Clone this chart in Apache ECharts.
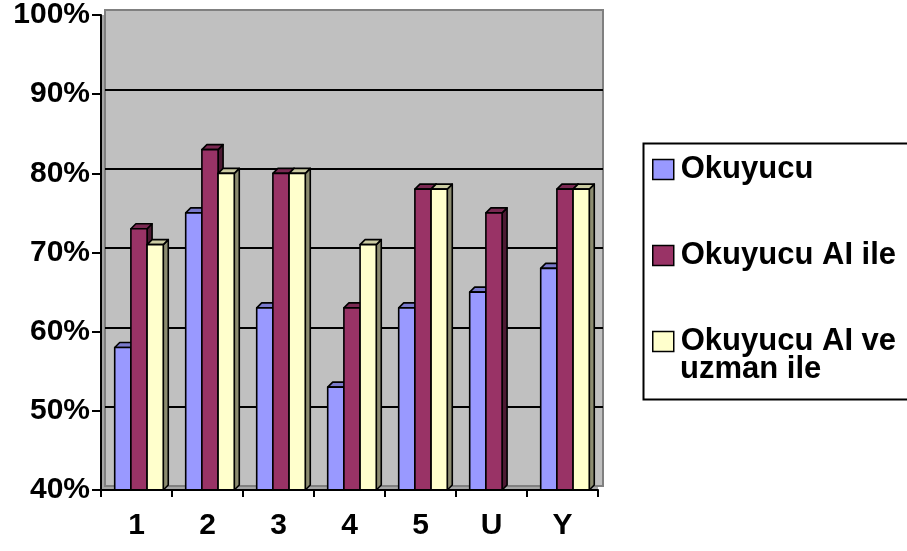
<!DOCTYPE html>
<html>
<head>
<meta charset="utf-8">
<script src="https://cdn.jsdelivr.net/npm/echarts@6/dist/echarts.min.js"></script>
<style>
  html, body { margin: 0; padding: 0; background: #fff; }
  #chart { width: 907px; height: 551px; }
</style>
</head>
<body>
<div id="chart"></div>
<script>
// Categories and series values (percent)
const categories = ['1', '2', '3', '4', '5', 'U', 'Y'];
const seriesNames = ['Okuyucu', 'Okuyucu AI ile', 'Okuyucu AI ve uzman ile'];
const okuyucu = [58, 75, 63, 53, 63, 65, 68];
const okuyucuAI = [73, 83, 80, 63, 78, 75, 78];
const okuyucuAIUzman = [71, 80, 80, 71, 78, null, 78];
const yMin = 40, yMax = 100, yStep = 10;

const faceColors = ['#9999FF', '#993366', '#FFFFCC'];
const topColors = ['#7a7acc', '#7a2952', '#cccca3'];
const sideColors = ['#5c5c99', '#4d1a33', '#8c8c70'];

const FONT = '"Liberation Sans", Arial, sans-serif';
const DEPTH = 5;

// 3D-looking column: front face, top face and right side face
function renderBar(params, api) {
  const cat = api.value(0);
  const v = api.value(1);
  if (v == null || isNaN(v)) return;
  const k = params.seriesIndex;
  const topPt = api.coord([cat, v]);
  const basePt = api.coord([cat, yMin]);
  const band = api.size([1, 0])[0];
  const w = band * 0.228;
  const x0 = topPt[0] - 1.5 * w + k * w + band * 0.035;
  const x1 = x0 + w;
  const yt = topPt[1];
  const yb = basePt[1];
  const d = DEPTH;
  const stroke = { stroke: '#000', lineWidth: 1.6, lineJoin: 'round' };
  return {
    type: 'group',
    children: [
      {
        type: 'polygon',
        shape: { points: [[x1, yt], [x1 + d, yt - d], [x1 + d, yb - d], [x1, yb]] },
        style: Object.assign({ fill: sideColors[k] }, stroke)
      },
      {
        type: 'polygon',
        shape: { points: [[x0, yt], [x0 + d, yt - d], [x1 + d, yt - d], [x1, yt]] },
        style: Object.assign({ fill: topColors[k] }, stroke)
      },
      {
        type: 'rect',
        shape: { x: x0, y: yt, width: w, height: yb - yt },
        style: Object.assign({ fill: faceColors[k] }, stroke)
      }
    ]
  };
}

function toPairs(arr) {
  return arr.map((v, i) => [i, v == null ? '-' : v]);
}
const allValues = [okuyucu, okuyucuAI, okuyucuAIUzman];

const chart = echarts.init(document.getElementById('chart'), null, { renderer: 'canvas' });

const LH = 28;
const LEGEND_FONT = 31;
const option = {
  animation: false,
  backgroundColor: '#fff',
  textStyle: { fontFamily: FONT },
  grid: [
    // front plane (axes + bars)
    { left: 101, right: 309, top: 14, bottom: 61, show: true, backgroundColor: '#a6a6a6', borderWidth: 0, z: 0 },
    // back wall, shifted by the depth
    { left: 105, right: 304, top: 10, bottom: 65, show: true, backgroundColor: '#c0c0c0', borderColor: '#808080', borderWidth: 2, z: 1 }
  ],
  xAxis: [
    {
      type: 'category', gridIndex: 0, data: categories, boundaryGap: true, z: 6,
      axisLine: { lineStyle: { color: '#000', width: 2 } },
      axisTick: { show: true, length: 7, lineStyle: { color: '#000', width: 2 } },
      axisLabel: { color: '#000', fontSize: 30, fontWeight: 'bold', fontFamily: FONT, margin: 21 }
    },
    { type: 'category', gridIndex: 1, data: categories, show: false }
  ],
  yAxis: [
    {
      type: 'value', gridIndex: 0, min: yMin, max: yMax, interval: yStep, z: 6,
      axisLine: { show: true, lineStyle: { color: '#000', width: 2 } },
      axisTick: { show: true, length: 9, lineStyle: { color: '#000', width: 2 } },
      splitLine: { show: false },
      axisLabel: { color: '#000', fontSize: 30, fontWeight: 'bold', fontFamily: FONT, margin: 11, formatter: '{value}%' }
    },
    {
      type: 'value', gridIndex: 1, min: yMin, max: yMax, interval: yStep, z: 2,
      axisLine: { show: false }, axisTick: { show: false }, axisLabel: { show: false },
      splitLine: { show: true, showMinLine: false, showMaxLine: false, lineStyle: { color: '#000', width: 2 } }
    }
  ],
  legend: {
    orient: 'vertical',
    left: 652,
    top: 168 - LH / 2,
    padding: 0,
    itemGap: 55,
    itemWidth: 21,
    itemHeight: 20,
    icon: 'rect',
    itemStyle: { borderColor: '#000', borderWidth: 1.5 },
    textStyle: { color: '#000', fontSize: LEGEND_FONT, fontWeight: 'bold', fontFamily: FONT, lineHeight: LH, padding: [0, 0, 0, 2] },
    formatter: function (name) {
      return name === seriesNames[2] ? 'Okuyucu AI ve' : name;
    },
    data: seriesNames
  },
  graphic: [
    {
      // continuation line of the third legend entry
      type: 'text', x: 680, y: 340 + LH + 1, z: 10,
      style: {
        text: 'uzman ile', fill: '#000', verticalAlign: 'middle',
        font: 'bold ' + LEGEND_FONT + 'px ' + FONT
      }
    },
    {
      type: 'rect', left: 641, top: 141, z: 10,
      shape: { width: 280, height: 256 },
      style: { fill: 'none', stroke: '#000', lineWidth: 2 }
    }
  ],
  series: allValues.map((vals, k) => ({
    type: 'custom',
    name: seriesNames[k],
    xAxisIndex: 0,
    yAxisIndex: 0,
    z: 4,
    itemStyle: { color: faceColors[k] },
    encode: { x: 0, y: 1 },
    data: toPairs(vals),
    renderItem: renderBar
  }))
};

chart.setOption(option);
</script>
</body>
</html>
